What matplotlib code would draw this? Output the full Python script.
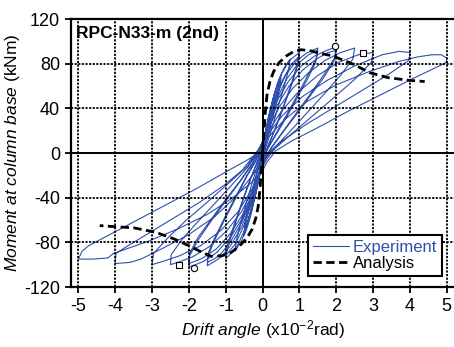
import matplotlib
matplotlib.use("Agg")
import matplotlib.pyplot as plt

plt.rcParams['font.family'] = ['Liberation Sans', 'DejaVu Sans']
plt.rcParams['mathtext.fontset'] = 'custom'
plt.rcParams['mathtext.rm'] = 'Liberation Sans'
plt.rcParams['mathtext.it'] = 'Liberation Sans:italic'
plt.rcParams['axes.unicode_minus'] = False

# experiment, one list pair per cycle (drift x1e-2 rad, moment kNm)
c1_x = [0.0, 0.04, 0.09, 0.15, 0.2, 0.25, 0.23, 0.17, 0.1, 0.04, -0.02, -0.07, -0.12, -0.18, -0.25, -0.23, -0.17, -0.1, -0.04, -0.01]
c1_m = [0, 10, 21, 31, 38, 43, 37, 27, 16, 6, -6, -16, -26, -36, -44, -38, -28, -16, -6, 0]
c2_x = [-0.01, 0.05, 0.12, 0.21, 0.31, 0.41, 0.5, 0.47, 0.38, 0.26, 0.14, 0.05, -0.03, -0.1, -0.19, -0.29, -0.4, -0.5, -0.47, -0.38, -0.26, -0.14, -0.05]
c2_m = [0, 11, 24, 38, 51, 62, 70, 62, 48, 32, 16, 4, -9, -22, -37, -52, -65, -74, -65, -50, -32, -16, -4]
c3_x = [-0.05, 0.03, 0.11, 0.21, 0.32, 0.42, 0.5, 0.47, 0.38, 0.26, 0.14, 0.06, -0.02, -0.1, -0.2, -0.31, -0.41, -0.5, -0.47, -0.38, -0.26, -0.14, -0.06]
c3_m = [-4, 8, 21, 35, 48, 59, 67, 59, 46, 30, 15, 4, -8, -20, -35, -50, -62, -71, -62, -48, -31, -16, -5]
c4_x = [-0.06, 0.03, 0.13, 0.26, 0.41, 0.58, 0.75, 0.71, 0.59, 0.42, 0.25, 0.1, 0.0, -0.1, -0.23, -0.39, -0.56, -0.75, -0.71, -0.58, -0.41, -0.23, -0.09]
c4_m = [-5, 9, 26, 46, 63, 76, 84, 75, 60, 41, 22, 6, -7, -22, -42, -62, -78, -88, -78, -61, -41, -21, -6]
c5_x = [-0.09, 0.03, 0.15, 0.31, 0.5, 0.73, 1.0, 0.95, 0.8, 0.59, 0.37, 0.16, 0.02, -0.1, -0.26, -0.46, -0.7, -1.0, -0.95, -0.78, -0.56, -0.32, -0.12]
c5_m = [-6, 10, 30, 52, 70, 83, 90, 80, 64, 44, 24, 7, -7, -24, -46, -67, -84, -95, -85, -67, -45, -23, -6]
c6_x = [-0.12, 0.01, 0.15, 0.33, 0.54, 0.77, 1.0, 0.95, 0.8, 0.59, 0.37, 0.17, 0.03, -0.1, -0.27, -0.48, -0.73, -1.0, -0.95, -0.78, -0.56, -0.33, -0.13]
c6_m = [-6, 7, 26, 47, 65, 79, 87, 78, 62, 43, 24, 8, -5, -21, -42, -63, -81, -92, -82, -65, -44, -23, -7]
c7_x = [-0.13, 0.0, 0.17, 0.38, 0.63, 0.93, 1.22, 1.5, 1.45, 1.22, 0.93, 0.63, 0.34, 0.12, 0.0, -0.12, -0.3, -0.55, -0.85, -1.12, -1.3, -1.5, -1.48, -1.3, -1.02, -0.72, -0.43, -0.18]
c7_m = [-7, 8, 30, 52, 70, 83, 90, 94, 84, 69, 51, 33, 16, 3, -8, -24, -44, -65, -82, -93, -97, -101, -92, -78, -59, -40, -21, -7]
c8_x = [-0.18, -0.03, 0.15, 0.38, 0.65, 0.96, 1.25, 1.5, 1.45, 1.23, 0.95, 0.65, 0.36, 0.14, 0.02, -0.11, -0.3, -0.56, -0.88, -1.15, -1.32, -1.5, -1.48, -1.3, -1.03, -0.73, -0.44, -0.19]
c8_m = [-7, 6, 26, 48, 66, 80, 88, 92, 82, 67, 50, 32, 16, 4, -6, -21, -41, -62, -80, -91, -95, -98, -90, -76, -58, -39, -21, -7]
c9_x = [-0.19, -0.03, 0.16, 0.4, 0.7, 1.05, 1.42, 1.75, 2.0, 1.95, 1.66, 1.3, 0.92, 0.55, 0.24, 0.06, -0.08, -0.26, -0.52, -0.86, -1.24, -1.6, -1.82, -2.0, -1.98, -1.75, -1.4, -1.0, -0.6, -0.28]
c9_m = [-7, 7, 27, 47, 64, 78, 87, 92, 95, 85, 70, 53, 36, 19, 5, -5, -19, -37, -57, -75, -89, -97, -100, -102, -92, -78, -61, -43, -25, -10]
c10_x = [-0.28, -0.08, 0.14, 0.4, 0.72, 1.08, 1.45, 1.78, 2.0, 1.95, 1.67, 1.31, 0.93, 0.56, 0.25, 0.07, -0.07, -0.25, -0.52, -0.87, -1.26, -1.62, -1.84, -2.0, -1.98, -1.76, -1.41, -1.01, -0.61, -0.29]
c10_m = [-10, 4, 23, 43, 60, 74, 84, 90, 92, 83, 68, 52, 35, 19, 5, -4, -17, -34, -54, -72, -86, -94, -97, -99, -90, -76, -60, -42, -25, -10]
c11_x = [-0.29, -0.08, 0.15, 0.45, 0.82, 1.25, 1.7, 2.12, 2.5, 2.45, 2.1, 1.65, 1.15, 0.68, 0.3, 0.08, -0.08, -0.28, -0.58, -0.98, -1.45, -1.9, -2.22, -2.5, -2.48, -2.2, -1.8, -1.32, -0.82, -0.38]
c11_m = [-10, 4, 22, 41, 58, 72, 83, 90, 94, 84, 69, 52, 34, 17, 4, -5, -18, -34, -53, -70, -84, -93, -97, -100, -91, -78, -63, -46, -28, -12]
c12_x = [-0.38, -0.12, 0.15, 0.5, 0.95, 1.48, 2.05, 2.6, 3.0, 2.95, 2.5, 1.95, 1.35, 0.78, 0.34, 0.1, -0.08, -0.3, -0.65, -1.12, -1.68, -2.25, -2.7, -3.0, -2.96, -2.6, -2.1, -1.5, -0.92, -0.42]
c12_m = [-12, 2, 19, 37, 54, 69, 81, 88, 90, 81, 66, 50, 33, 17, 4, -6, -18, -33, -52, -69, -83, -92, -97, -100, -90, -77, -61, -44, -27, -12]
c13_x = [-0.42, -0.15, 0.15, 0.55, 1.1, 1.75, 2.5, 3.25, 3.7, 4.0, 3.97, 3.4, 2.7, 1.95, 1.2, 0.58, 0.22, 0.0, -0.3, -0.72, -1.3, -2.0, -2.75, -3.3, -3.6, -4.0, -3.98, -3.75, -3.2, -2.5, -1.75, -1.05, -0.5]
c13_m = [-12, 1, 17, 34, 51, 65, 78, 88, 91, 90, 83, 70, 56, 41, 26, 12, 2, -7, -21, -39, -57, -73, -86, -95, -98, -99, -90, -85, -74, -60, -45, -29, -14]
c14_x = [-0.5, -0.2, 0.15, 0.6, 1.2, 2.0, 2.9, 3.7, 4.2, 4.6, 4.85, 5.0, 4.98, 4.8, 4.1, 3.2, 2.3, 1.4, 0.8, 0.36, 0.12, 0.0, -0.35, -0.85, -1.5, -2.3, -3.1, -3.7, -4.05, -4.2, -4.6, -5.0, -4.9, -4.72, -4.2, -3.4, -2.6, -1.8, -1.0, -0.4, -0.1]
c14_m = [-13, -1, 14, 30, 46, 61, 73, 82, 86, 88, 88, 85, 81, 78, 67, 52, 37, 21, 11, 2, -8, -16, -28, -41, -55, -68, -79, -86, -90, -94, -95, -95, -88, -83, -74, -60, -46, -32, -17, -6, 0]

# analysis
ana_pos_x = [0, 0.03, 0.07, 0.12, 0.2, 0.3, 0.45, 0.65, 0.85, 1.05, 1.3, 1.6, 1.9, 2.2, 2.5, 2.9, 3.4, 4.0, 4.4]
ana_pos_m = [0, 15, 35, 52, 64, 73, 81, 87, 91, 92.5, 91.5, 89, 87, 83, 79, 72, 67.5, 65, 64]
ana_neg_x = [0, -0.03, -0.07, -0.12, -0.18, -0.28, -0.42, -0.62, -0.85, -1.1, -1.4, -1.7, -2.0, -2.4, -2.9, -3.5, -4.0, -4.42]
ana_neg_m = [0, -15, -32, -48, -58, -68, -76, -83, -89, -92, -92.5, -88, -83, -77, -71, -67, -66, -65]

# marked points
circ_x = [1.96, -1.87]
circ_m = [96, -103]
sq_x = [2.72, -2.27]
sq_m = [90, -100]

exp_x = c1_x + c2_x + c3_x + c4_x + c5_x + c6_x + c7_x + c8_x + c9_x + c10_x + c11_x + c12_x + c13_x + c14_x
exp_m = c1_m + c2_m + c3_m + c4_m + c5_m + c6_m + c7_m + c8_m + c9_m + c10_m + c11_m + c12_m + c13_m + c14_m

blue = '#2F4FAE'

fig = plt.figure(figsize=(4.54, 3.47), dpi=100)
ax = fig.add_axes([71 / 454, 1 - 287 / 347, 385 / 454, 268 / 347])

ax.plot(exp_x, exp_m, color=blue, lw=0.8, zorder=2, label='Experiment')
ax.plot(ana_pos_x, ana_pos_m, color='black', lw=2.0, ls=(0, (3, 1.6)), zorder=4, label='Analysis')
ax.plot(ana_neg_x, ana_neg_m, color='black', lw=2.0, ls=(0, (3, 1.6)), zorder=4)
ax.plot(circ_x, circ_m, 'o', ms=4.5, mfc='white', mec='black', mew=0.8, zorder=5)
ax.plot(sq_x, sq_m, 's', ms=4.2, mfc='white', mec='black', mew=0.8, zorder=5)

ax.set_xlim(-5.2, 5.25)
ax.set_ylim(-120, 120)
ax.set_xticks(range(-5, 6))
ax.set_yticks(range(-120, 121, 40))
ax.grid(True, color='black', lw=1.3, ls=(0, (1.2, 0.8)))
ax.set_axisbelow(False)
ax.axhline(0, color='black', lw=1.4, zorder=3)
ax.axvline(0, color='black', lw=1.4, zorder=3)

for s in ax.spines.values():
    s.set_linewidth(1.6)
ax.tick_params(direction='out', length=4, width=1.3, labelsize=13, pad=4)

ax.set_xlabel(r'$\it{Drift\ angle}$ (x10$^{-2}$rad)', fontsize=12.5, labelpad=2)
ax.set_ylabel(r'$\it{Moment\ at\ column\ base}$ (kNm)', fontsize=12.5, labelpad=1)

ax.text(0.012, 0.975, 'RPC-N33-m (2nd)', transform=ax.transAxes, fontsize=12.5,
        fontweight='bold', va='top', ha='left', zorder=6)

leg = ax.legend(loc='lower right', bbox_to_anchor=(0.964, 0.041), fontsize=12,
                frameon=True, fancybox=False, edgecolor='black', framealpha=1,
                handlelength=2.2, labelspacing=0.05, borderpad=0.3, handletextpad=0.2,
                borderaxespad=0)
leg.get_frame().set_linewidth(1.5)
leg.get_texts()[0].set_color(blue)
leg.set_zorder(7)

fig.savefig('out.png', dpi=100)
